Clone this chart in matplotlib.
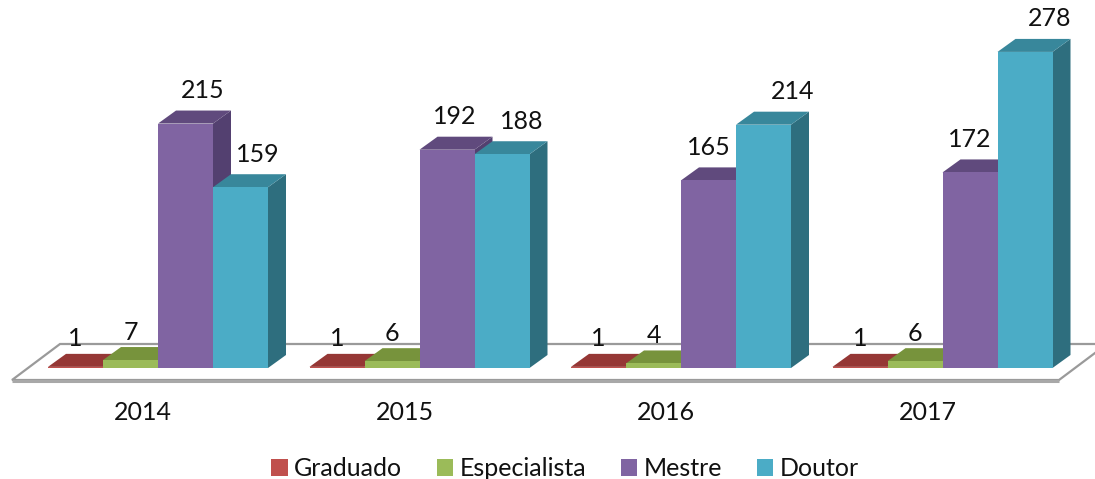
import matplotlib
matplotlib.use("Agg")
import matplotlib.pyplot as plt
from matplotlib.patches import Polygon, Rectangle

plt.rcParams["font.family"] = ["Lato", "DejaVu Sans"]

# ---- data ----
years = ["2014", "2015", "2016", "2017"]
series_names = ["Graduado", "Especialista", "Mestre", "Doutor"]
graduado = [1, 1, 1, 1]
especialista = [7, 6, 4, 6]
mestre = [215, 192, 165, 172]
doutor = [159, 188, 214, 278]

# ---- style / layout ----
front_cols = ["#C0504D", "#9BBB59", "#8064A2", "#4BACC6"]
top_cols = ["#953735", "#77933C", "#604A7D", "#38879B"]
side_cols = ["#8B3331", "#6C8836", "#534070", "#2E6E7E"]
# horizontal nudges of value labels (pixels, relative to bar front centre)
label_nudge = [[0, 0, 17, 17], [0, 0, 8, 20], [0, 0, 0, 29], [0, 0, 0, 25]]
TXT = "#111111"

W, H = 1095, 479
PXX = 261.5   # pixels per category unit
PXY = 1.137   # pixels per value unit
BASE_PX = 368
GROUP0_PX = 158

fig = plt.figure(figsize=(W / 100, H / 100), dpi=100)
ax = fig.add_axes([0, 0, 1, 1])
ax.set_xlim(-GROUP0_PX / PXX, (W - GROUP0_PX) / PXX)
ax.set_ylim(-(H - BASE_PX) / PXY, BASE_PX / PXY)
ax.axis("off")

def px2x(p):
    return (p - GROUP0_PX) / PXX

def dpx2y(p):
    return p / PXY

# floor plate
floor = Polygon([(px2x(12), dpx2y(-12)), (px2x(60), dpx2y(24)),
                 (px2x(1107), dpx2y(24)), (px2x(1059), dpx2y(-12))],
                closed=True, facecolor="white", edgecolor="#9A9A9A",
                linewidth=1.6, zorder=1)
ax.add_patch(floor)
ax.plot([px2x(12), px2x(1059)], [dpx2y(-12.5), dpx2y(-12.5)],
        color="#A8A8A8", lw=2.2, zorder=1.1, solid_capstyle="butt")

w = 55 / PXX
dx = 18 / PXX
dy = 13 / PXY

series = [graduado, especialista, mestre, doutor]
z = 2
for i, yr in enumerate(years):
    for k, vals in enumerate(series):
        h = vals[i]
        x0 = i + (k - 2) * w
        x1 = x0 + w
        side = Polygon([(x1, 0), (x1 + dx, dy), (x1 + dx, h + dy), (x1, h)],
                       closed=True, facecolor=side_cols[k], edgecolor="none", zorder=z)
        top = Polygon([(x0, h), (x1, h), (x1 + dx, h + dy), (x0 + dx, h + dy)],
                      closed=True, facecolor=top_cols[k], edgecolor="none", zorder=z + 0.1)
        front = Rectangle((x0, 0), w, h, facecolor=front_cols[k], edgecolor="none",
                          zorder=z + 0.2)
        ax.add_patch(side)
        ax.add_patch(top)
        ax.add_patch(front)
        z += 1
        off = 15 if h < 20 else 20
        ax.text((x0 + x1) / 2 + label_nudge[i][k] / PXX, h + dy + dpx2y(off), str(h),
                ha="center", va="center", fontsize=18, color=TXT, zorder=100)
    ax.text(i - 15 / PXX, dpx2y(-44), yr, ha="center", va="center",
            fontsize=18, color=TXT, zorder=100)

handles = [Rectangle((0, 0), 1, 1, facecolor=c, edgecolor="none") for c in front_cols]
fig.legend(handles, series_names, loc="center", bbox_to_anchor=(565 / W, 1 - 469 / H),
           ncol=4, frameon=False, fontsize=18, handlelength=0.65, handleheight=0.65,
           handletextpad=0.25, columnspacing=1.4, borderpad=0, labelcolor=TXT)

fig.savefig("out.png", dpi=100)
